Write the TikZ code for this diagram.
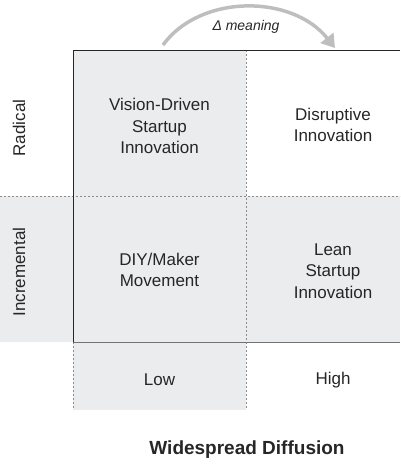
\documentclass[tikz,border=0pt]{standalone}
\usepackage{fontspec}
\setmainfont{Liberation Sans}
\usetikzlibrary{arrows.meta}
\definecolor{cellgray}{RGB}{235,236,238}
\definecolor{dashgray}{RGB}{140,140,140}
\definecolor{arrowgray}{RGB}{190,190,190}
\tikzset{
  celltext/.style={align=center, inner sep=0pt, text=black!85},
  dashline/.style={draw=dashgray, line width=0.8pt, dash pattern=on 2pt off 2pt},
  shade/.style={fill=cellgray, draw=none}
}
\begin{document}
\begin{tikzpicture}[x=1pt,y=-1pt, font=\fontsize{17}{21.5}\selectfont]
\useasboundingbox (0,0) rectangle (400,464);
% shaded regions
\path[shade] (0,196) rectangle (400,342);
\path[shade] (73,50) rectangle (246,196);
\path[shade] (73,342) rectangle (246,410);
% dashed dividers
\draw[dashline] (0,196) -- (400,196);
\draw[dashline] (246,50) -- (246,410);
\draw[dashline] (73,342) -- (73,410);
% frame
\draw[black!85, line width=1pt] (73,342) -- (73,50) -- (400,50);
\draw[black!55, line width=1pt] (73,342) -- (400,342);
% cell texts
\node[celltext] (vd) at (159.5,126) {Vision-Driven\\Startup\\Innovation};
\node[celltext] (di) at (333,125) {Disruptive\\Innovation};
\node[celltext] (diy) at (159.5,270) {DIY/Maker\\Movement};
\node[celltext] (lean) at (333,271) {Lean\\Startup\\Innovation};
\node[celltext] (low) at (159.5,380) {Low};
\node[celltext] (high) at (333,380) {High};
\node[celltext, rotate=90] (rad) at (19,128) {Radical};
\node[celltext, rotate=90] (inc) at (19,272) {Incremental};
\node[celltext, font=\fontsize{19}{22}\selectfont\bfseries] (wd) at (247,450) {Widespread Diffusion};
\node[celltext, font=\fontsize{14}{16}\selectfont\itshape] (mean) at (246,27) {Δ meaning};
% arrow
\coordinate (as) at (163,45);
\coordinate (ae) at (335,48);
\draw[arrowgray, line width=3.5pt, -{Triangle[length=13pt,width=16pt]}]
  (as) .. controls (200,-6) and (292,-6) .. (ae);
\end{tikzpicture}
\end{document}
